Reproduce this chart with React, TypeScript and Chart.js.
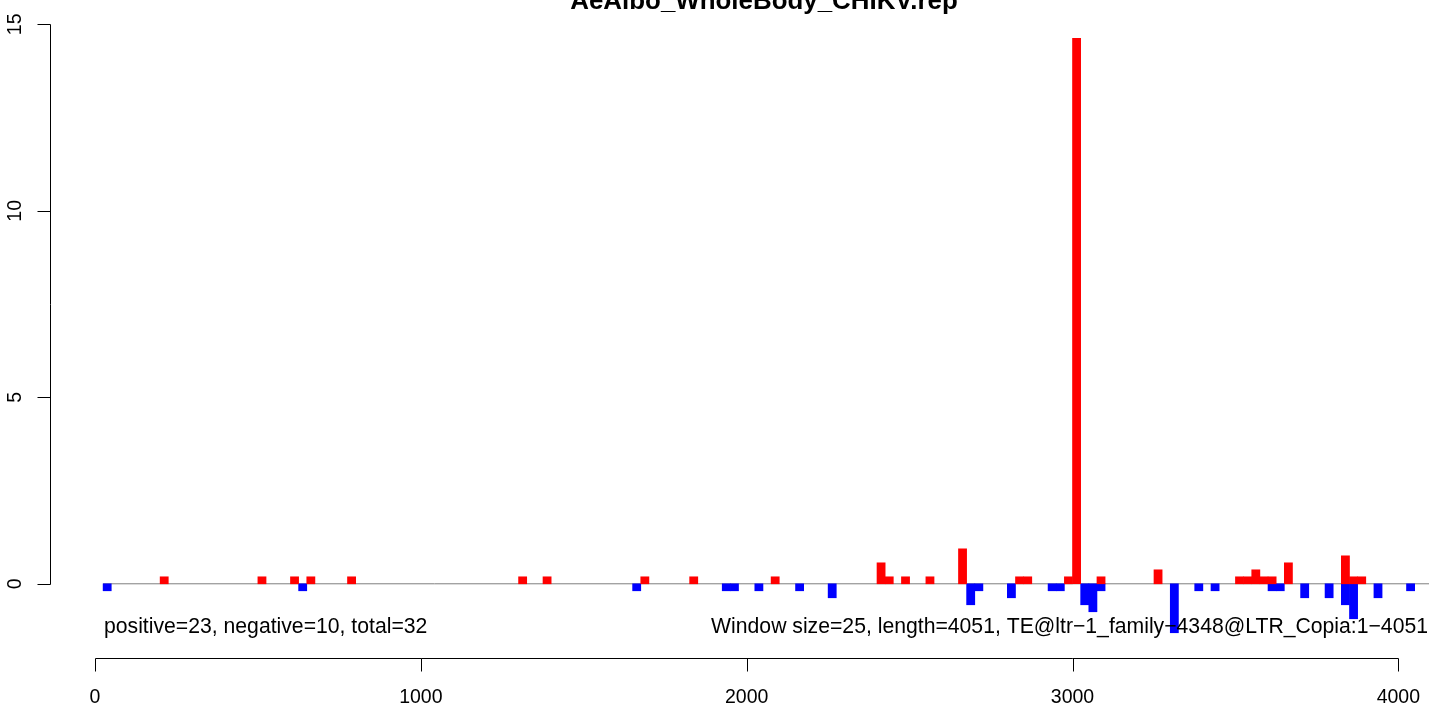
import React, { useEffect, useRef } from "react";
import { Chart, registerables } from "chart.js";

Chart.register(...registerables);

// ---- data ----
const WINDOW = 25;
const posStarts = [200, 500, 600, 650, 775, 1300, 1375, 1675, 1825, 2075, 2400, 2425, 2475, 2550, 2650, 2825, 2850, 2975, 3000, 3075, 3250, 3500, 3525, 3550, 3575, 3600, 3650, 3825, 3850, 3875];
const posValues = [0.1875, 0.1875, 0.1875, 0.1875, 0.1875, 0.1875, 0.1875, 0.1875, 0.1875, 0.1875, 0.5625, 0.1875, 0.1875, 0.1875, 0.9375, 0.1875, 0.1875, 0.1875, 14.625, 0.1875, 0.375, 0.1875, 0.1875, 0.375, 0.1875, 0.1875, 0.5625, 0.75, 0.1875, 0.1875];
const negStarts = [25, 625, 1650, 1925, 1950, 2025, 2150, 2250, 2675, 2700, 2800, 2925, 2950, 3025, 3050, 3075, 3300, 3375, 3425, 3600, 3625, 3700, 3775, 3825, 3850, 3925, 4025];
const negValues = [-0.1875, -0.1875, -0.1875, -0.1875, -0.1875, -0.1875, -0.1875, -0.375, -0.5625, -0.1875, -0.375, -0.1875, -0.1875, -0.5625, -0.75, -0.1875, -1.3125, -0.1875, -0.1875, -0.1875, -0.1875, -0.375, -0.375, -0.5625, -0.9375, -0.375, -0.1875];
const xTicks = [0, 1000, 2000, 3000, 4000];
const yTicks = [0, 5, 10, 15];
const X_MIN = -138;
const X_MAX = 4094;
const Y_MIN = -1.775;
const Y_MAX = 15.651;
const TITLE = "AeAlbo_WholeBody_CHIKV.rep";
const LEFT_NOTE = "positive=23, negative=10, total=32";
const RIGHT_NOTE = "Window size=25, length=4051, TE@ltr\u22121_family\u22124348@LTR_Copia:1\u22124051";

const FONT = '"Liberation Sans", Arial, Helvetica, sans-serif';

const rStyle = {
  id: "rStyle",
  afterDraw(chart: any) {
    const { ctx } = chart;
    const x = chart.scales.x;
    const y = chart.scales.y;
    ctx.save();
    ctx.strokeStyle = "#000";
    ctx.fillStyle = "#000";
    ctx.lineWidth = 1;

    // y axis
    const ax = Math.round(chart.chartArea.left) + 0.5;
    ctx.beginPath();
    ctx.moveTo(ax, Math.round(y.getPixelForValue(yTicks[0])) + 0.5);
    ctx.lineTo(ax, Math.round(y.getPixelForValue(yTicks[yTicks.length - 1])) + 0.5);
    for (const t of yTicks) {
      const py = Math.round(y.getPixelForValue(t)) + 0.5;
      ctx.moveTo(ax - 13, py);
      ctx.lineTo(ax, py);
    }
    ctx.stroke();
    ctx.font = `19.5px ${FONT}`;
    ctx.textAlign = "center";
    ctx.textBaseline = "alphabetic";
    for (const t of yTicks) {
      const py = y.getPixelForValue(t);
      ctx.save();
      ctx.translate(ax - 29.5, py);
      ctx.rotate(-Math.PI / 2);
      ctx.fillText(String(t), 0, 0);
      ctx.restore();
    }

    // x axis
    const ay = 658.5;
    ctx.beginPath();
    ctx.moveTo(Math.round(x.getPixelForValue(xTicks[0])) + 0.5, ay);
    ctx.lineTo(Math.round(x.getPixelForValue(xTicks[xTicks.length - 1])) + 0.5, ay);
    for (const t of xTicks) {
      const px = Math.round(x.getPixelForValue(t)) + 0.5;
      ctx.moveTo(px, ay);
      ctx.lineTo(px, ay + 13);
    }
    ctx.stroke();
    for (const t of xTicks) {
      ctx.fillText(String(t), x.getPixelForValue(t), 703);
    }

    // notes
    ctx.font = `21.2px ${FONT}`;
    ctx.textAlign = "left";
    ctx.fillText(LEFT_NOTE, 104, 633);
    ctx.textAlign = "right";
    ctx.fillText(RIGHT_NOTE, 1428, 633);

    // title
    ctx.font = `bold 25.9px ${FONT}`;
    ctx.textAlign = "center";
    ctx.fillText(TITLE, 764, 9);
    ctx.restore();
  },
};

export default function App() {
  const ref = useRef<HTMLCanvasElement | null>(null);
  useEffect(() => {
    document.body.style.margin = "0";
    const canvas = ref.current;
    if (!canvas) return;
    const chart = new Chart(canvas, {
      type: "bar",
      data: {
        datasets: [
          {
            type: "line",
            data: [
              { x: negStarts[0], y: 0 },
              { x: X_MAX, y: 0 },
            ],
            borderColor: "#7f7f7f",
            borderWidth: 1,
            pointRadius: 0,
            fill: false,
            order: 3,
          } as any,
          {
            type: "bar",
            data: posStarts.map((s, i) => ({ x: s + WINDOW / 2, y: posValues[i] })),
            backgroundColor: "#ff0000",
            borderWidth: 0,
            barPercentage: 1,
            categoryPercentage: 1,
            order: 1,
          },
          {
            type: "bar",
            data: negStarts.map((s, i) => ({ x: s + WINDOW / 2, y: negValues[i] })),
            backgroundColor: "#0000ff",
            borderWidth: 0,
            barPercentage: 1,
            categoryPercentage: 1,
            order: 2,
          },
        ],
      },
      options: {
        responsive: false,
        animation: false,
        devicePixelRatio: 1,
        layout: { padding: { left: 50, right: 0, top: 0, bottom: 54 } },
        plugins: { legend: { display: false }, tooltip: { enabled: false } },
        scales: {
          x: {
            type: "linear",
            min: X_MIN,
            max: X_MAX,
            offset: false,
            stacked: true,
            display: false,
            ticks: { stepSize: 1000, includeBounds: false },
          },
          y: {
            type: "linear",
            min: Y_MIN,
            max: Y_MAX,
            stacked: true,
            display: false,
          },
        },
      },
      plugins: [rStyle],
    });
    return () => chart.destroy();
  }, []);
  return (
    <div style={{ position: "absolute", left: 0, top: 0, width: 1429, height: 704 }}>
      <canvas ref={ref} width={1429} height={704} />
    </div>
  );
}
